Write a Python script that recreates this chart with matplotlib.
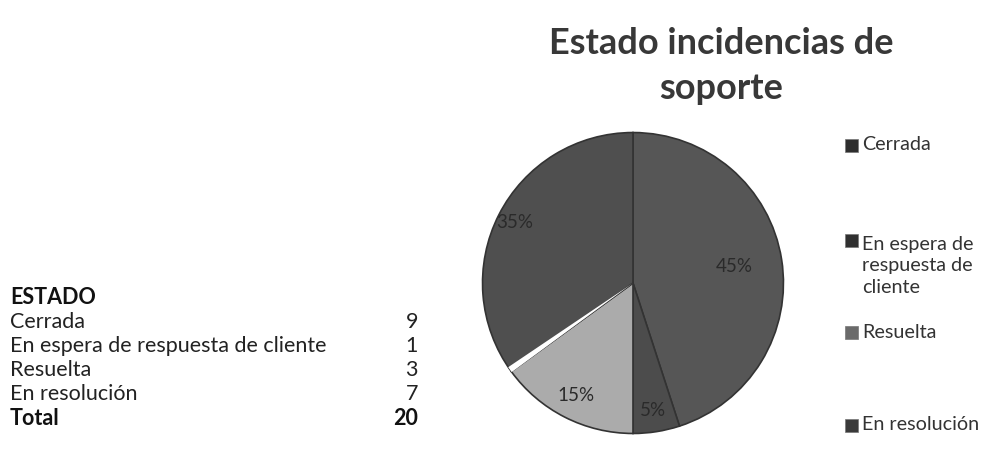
import numpy as np
import matplotlib.pyplot as plt
from matplotlib.patches import Rectangle, Wedge

estados = ["Cerrada", "En espera de respuesta de cliente", "Resuelta", "En resolución"]
cantidades = [9, 1, 3, 7]
leyenda = ["Cerrada", "En espera de\nrespuesta de\ncliente", "Resuelta", "En resolución"]
colores = ["#565656", "#4c4c4c", "#ababab", "#4f4f4f"]
marcadores = ["#2e2e2e", "#303030", "#6a6a6a", "#3a3a3a"]

plt.rcParams['font.family'] = ['Lato', 'DejaVu Sans']

fig = plt.figure(figsize=(9.81, 4.5), dpi=100)

# title
fig.text(0.735, 0.853, "Estado incidencias de\nsoporte", ha="center", va="center",
         fontsize=26, fontweight="bold", color="#383838", linespacing=1.45)

# pie
ax = fig.add_axes([0.4888, 0.03, 0.3129, 0.6822])
wedges, texts, autotexts = ax.pie(cantidades, colors=colores, startangle=90, counterclock=False,
                                  autopct="%1.0f%%", radius=1,
                                  wedgeprops=dict(edgecolor="#333333", linewidth=1.2),
                                  textprops=dict(fontsize=13.5, color="#2a2a2a"))
ax.set_xlim(-1.02, 1.02)
ax.set_ylim(-1.02, 1.02)

# label distances (best-fit look)
dist = [0.68, 0.86, 0.84, 0.88]
for w, t, d in zip(wedges, autotexts, dist):
    ang = np.deg2rad((w.theta1 + w.theta2) / 2)
    t.set_position((d * np.cos(ang), d * np.sin(ang)))

# white gap between En resolución and Resuelta
gap_ang = wedges[2].theta1
ax.add_patch(Wedge((0, 0), 1.0, gap_ang - 2.0, gap_ang + 0.3, facecolor="white", edgecolor="none"))

# legend, drawn by hand (y of first line, in pixels from top)
ley_px = [145, 240, 332, 425]
lh = 26
for lab, c, py in zip(leyenda, marcadores, ley_px):
    n = lab.count("\n")
    y0 = 1 - py / 450
    yc = 1 - (py + n * lh / 2) / 450
    fig.patches.append(Rectangle((845 / 981, y0 - 6.5 / 450), 13 / 981, 13 / 450,
                                 transform=fig.transFigure,
                                 facecolor=c, edgecolor="#777777", linewidth=0.5))
    fig.text(862 / 981, yc, lab, ha="left", va="center", fontsize=14.2, color="#333333",
             linespacing=1.35)

# table
fs = 15.5
fig.text(0.01, 0.34, "ESTADO", ha="left", va="center", fontsize=fs, fontweight="bold", color="#111111")
filas_y = [0.285, 0.231, 0.178, 0.124]
for est, cnt, y in zip(estados, cantidades, filas_y):
    fig.text(0.01, y, est, ha="left", va="center", fontsize=fs, color="#222222")
    fig.text(0.426, y, str(cnt), ha="right", va="center", fontsize=fs, color="#222222")
fig.text(0.01, 0.071, "Total", ha="left", va="center", fontsize=fs, fontweight="bold", color="#111111")
fig.text(0.426, 0.071, str(sum(cantidades)), ha="right", va="center", fontsize=fs,
         fontweight="bold", color="#111111")

fig.savefig("out.png", dpi=100)
